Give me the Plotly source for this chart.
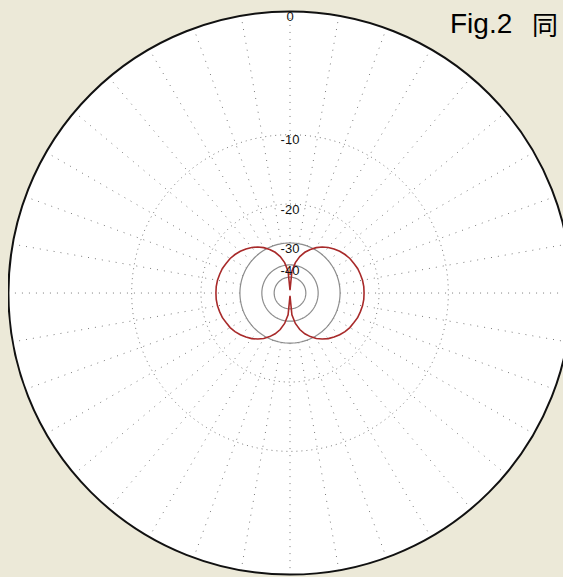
import plotly.graph_objects as go

# ---- data ----
angles_deg = [0, 5, 10, 15, 20, 25, 30, 35, 40, 45, 50, 55, 60, 65, 70, 75, 80, 85, 90,
              95, 100, 105, 110, 115, 120, 125, 130, 135, 140, 145, 150, 155, 160, 165, 170, 175, 180,
              185, 190, 195, 200, 205, 210, 215, 220, 225, 230, 235, 240, 245, 250, 255, 260, 265, 270,
              275, 280, 285, 290, 295, 300, 305, 310, 315, 320, 325, 330, 335, 340, 345, 350, 355, 360]
pattern_db = [-80, -44.4, -38.4, -34.9, -32.5, -30.7, -29.2, -28.0, -27.0, -26.2, -25.5, -24.9, -24.4, -24.1, -23.7, -23.5, -23.3, -23.2, -23.2,
              -23.2, -23.3, -23.5, -23.7, -24.1, -24.4, -24.9, -25.5, -26.2, -27.0, -28.0, -29.2, -30.7, -32.5, -34.9, -38.4, -44.4, -80,
              -44.4, -38.4, -34.9, -32.5, -30.7, -29.2, -28.0, -27.0, -26.2, -25.5, -24.9, -24.4, -24.1, -23.7, -23.5, -23.3, -23.2, -23.2,
              -23.2, -23.3, -23.5, -23.7, -24.1, -24.4, -24.9, -25.5, -26.2, -27.0, -28.0, -29.2, -30.7, -32.5, -34.9, -38.4, -44.4, -80]
dotted_ring_db = [-10, -20]
solid_ring_db = [-30, -40, -50]
label_db = [0, -10, -20, -30, -40]
label_text = ["0", "-10", "-20", "-30", "-40"]
spoke_angles = list(range(0, 360, 10))
spoke_inner_db = -30
title_main = "Fig.2"
title_cjk = "同"

DB_PER_DECADE = 40.0
BG = "#ECE9D8"
W, H = 571, 577  # page shows the figure from an 8px body margin


def to_r(db):
    return 10 ** (db / DB_PER_DECADE)


circle_theta = list(range(0, 361, 2))

fig = go.Figure()

# dotted rings
th, rr = [], []
for d in dotted_ring_db:
    th += circle_theta + [None]
    rr += [to_r(d)] * len(circle_theta) + [None]
fig.add_trace(go.Scatterpolar(theta=th, r=rr, mode="lines", hoverinfo="skip",
                              line=dict(color="#7a7a7a", width=1, dash="1px,4px")))

# spokes
th, rr = [], []
for a in spoke_angles:
    th += [a, a, None]
    rr += [to_r(spoke_inner_db), 1.0, None]
fig.add_trace(go.Scatterpolar(theta=th, r=rr, mode="lines", hoverinfo="skip",
                              line=dict(color="#7a7a7a", width=1, dash="1px,6px")))

# solid inner rings
th, rr = [], []
for d in solid_ring_db:
    th += circle_theta + [None]
    rr += [to_r(d)] * len(circle_theta) + [None]
fig.add_trace(go.Scatterpolar(theta=th, r=rr, mode="lines", hoverinfo="skip",
                              line=dict(color="#8c8c8c", width=1.2)))

# pattern
fig.add_trace(go.Scatterpolar(theta=angles_deg, r=[to_r(d) for d in pattern_db],
                              mode="lines", line=dict(color="#a82a2a", width=1.6)))

# ring labels
fig.add_trace(go.Scatterpolar(theta=[0] * len(label_db), r=[to_r(d) for d in label_db],
                              mode="text", text=label_text, textposition="bottom center",
                              textfont=dict(family="Liberation Sans, Arial", size=13, color="#111")))

fig.update_layout(
    width=W, height=H, autosize=False,
    margin=dict(l=0, r=0, t=0, b=0),
    paper_bgcolor=BG,
    showlegend=False,
    polar=dict(
        domain=dict(x=[0, 564 / W], y=[0.018, 0.994]),
        bgcolor="white",
        radialaxis=dict(visible=False, range=[0, 1]),
        angularaxis=dict(direction="clockwise", rotation=90, showgrid=False,
                         showticklabels=False, ticks="", linecolor="#111", linewidth=2),
    ),
    annotations=[
        dict(text=title_main, x=440 / W, y=1 - 16 / H, xref="paper", yref="paper", showarrow=False,
             xanchor="left", yanchor="middle",
             font=dict(family="Liberation Sans, Arial", size=28, color="#000")),
        dict(text=title_cjk, x=522 / W, y=1 - 16 / H, xref="paper", yref="paper", showarrow=False,
             xanchor="left", yanchor="middle",
             font=dict(family="Noto Sans CJK SC", size=26, color="#000")),
    ],
)

fig.write_html(
    "out.html",
    post_script=("document.documentElement.style.overflow='hidden';"
                 "document.body.style.overflow='visible';"
                 "document.body.style.margin='8px 0 0 8px';"
                 "document.body.style.width='620px';"
                 "document.documentElement.style.background='%s';"
                 "document.body.style.background='%s';" % (BG, BG)),
)
